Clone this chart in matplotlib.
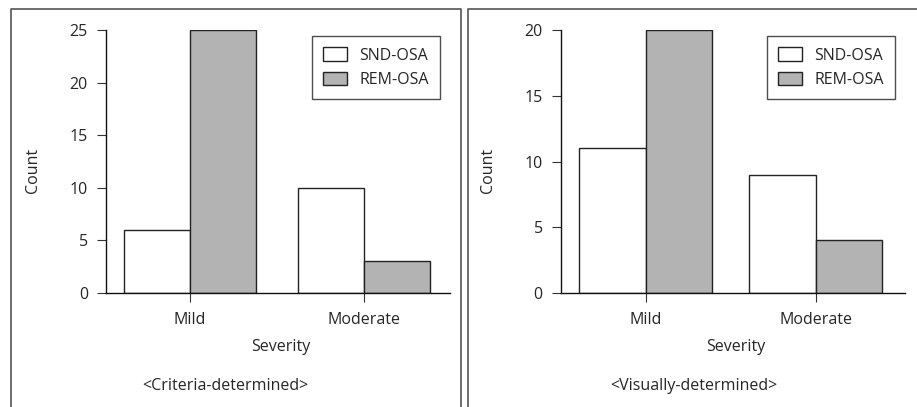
import numpy as np
import matplotlib
matplotlib.use("Agg")
import matplotlib.pyplot as plt
from matplotlib.lines import Line2D

plt.rcParams["font.family"] = ["Open Sans", "DejaVu Sans"]

severity = ["Mild", "Moderate"]
series_names = ["SND-OSA", "REM-OSA"]
crit_snd = [6, 10]  # Criteria-determined
crit_rem = [25, 3]
vis_snd = [11, 9]  # Visually-determined
vis_rem = [20, 4]
crit_yticks = [0, 5, 10, 15, 20, 25]
vis_yticks = [0, 5, 10, 15, 20]

W, H = 917, 407
fs = 11.5
txt = "#262626"
fig = plt.figure(figsize=(W / 100, H / 100), dpi=100)

def px(x0, y0, x1, y1):  # pixel box -> figure fraction rect
    return [x0 / W, 1 - y1 / H, (x1 - x0) / W, (y1 - y0) / H]

def draw_panel(ax, snd, rem, yticks, xlim, bw):
    x = np.arange(len(severity))
    ax.bar(x - bw / 2, snd, bw, color="white", edgecolor="#222222", linewidth=1.0, label=series_names[0])
    ax.bar(x + bw / 2, rem, bw, color="#b3b3b3", edgecolor="#222222", linewidth=1.0, label=series_names[1])
    ax.set_xlim(*xlim)
    ax.set_ylim(0, yticks[-1])
    ax.set_yticks(yticks)
    ax.set_xticks(x)
    ax.set_xticklabels(severity)
    for s in ["top", "right"]:
        ax.spines[s].set_visible(False)
    for s in ["left", "bottom"]:
        ax.spines[s].set_linewidth(1.0)
        ax.spines[s].set_color("#111111")
    ax.tick_params(axis="both", direction="out", length=6.5, width=0.8, color="#333333",
                   labelsize=fs, labelcolor=txt)
    ax.tick_params(axis="x", pad=7)
    ax.tick_params(axis="y", pad=6.5)
    leg = ax.legend(loc="upper right", bbox_to_anchor=(0.971, 0.977), borderaxespad=0,
                    fancybox=False, edgecolor="#222222", fontsize=fs, handlelength=1.5,
                    handleheight=0.95, handletextpad=0.75, borderpad=0.7, labelspacing=0.5)
    leg.get_frame().set_linewidth(1.0)
    for t in leg.get_texts():
        t.set_color(txt)

ax1 = fig.add_axes(px(106, 30, 450, 293))
draw_panel(ax1, crit_snd, crit_rem, crit_yticks, (-0.483, 1.494), 0.379)
ax2 = fig.add_axes(px(560.7, 30, 905, 293))
draw_panel(ax2, vis_snd, vis_rem, vis_yticks, (-0.5, 1.525), 0.39)

# axis titles and captions
fig.text(33 / W, 1 - 170 / H, "Count", rotation=90, ha="center", va="center", fontsize=fs, color=txt)
fig.text(488 / W, 1 - 170 / H, "Count", rotation=90, ha="center", va="center", fontsize=fs, color=txt)
fig.text(281 / W, 1 - 347 / H, "Severity", ha="center", va="center", fontsize=fs, color=txt)
fig.text(736 / W, 1 - 347 / H, "Severity", ha="center", va="center", fontsize=fs, color=txt)
fig.text(225 / W, 1 - 386 / H, "<Criteria-determined>", ha="center", va="center", fontsize=fs, color=txt)
fig.text(694 / W, 1 - 386 / H, "<Visually-determined>", ha="center", va="center", fontsize=fs, color=txt)

# panel frames (open at the bottom)
fc = "#555555"
for xs, ys in [([11, 11, 460.5, 460.5], [410, 9, 9, 410]),
               ([468, 468, 920], [410, 9, 9])]:
    fig.add_artist(Line2D([v / W for v in xs], [1 - v / H for v in ys], color=fc, linewidth=1.2,
                          transform=fig.transFigure))

fig.savefig("out.png", dpi=100)
